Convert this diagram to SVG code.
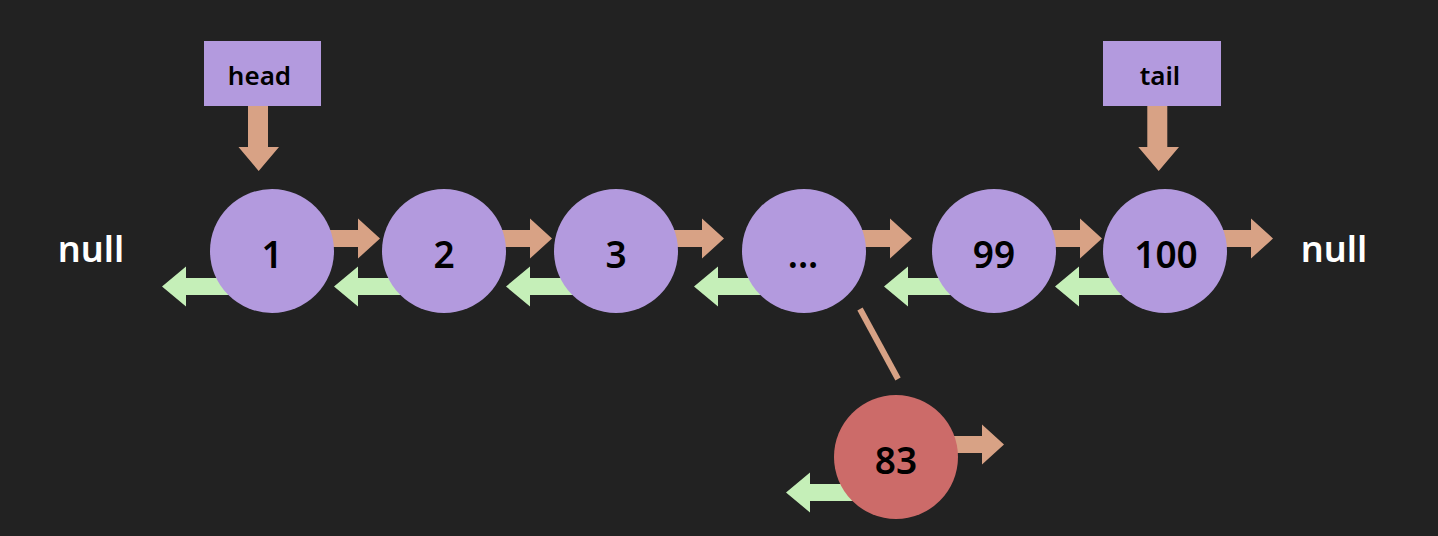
<svg xmlns="http://www.w3.org/2000/svg" xmlns:xlink="http://www.w3.org/1999/xlink" width="1438" height="536" viewBox="0 0 1438 536">
<style>
.node{fill:#b39ade}
.red{fill:#cc6b69}
.lbl{fill:#b39ade}
.nxt{fill:#d8a285}
.prv{fill:#c5efb8}
.t{font-family:"Noto Sans","Open Sans",sans-serif;font-weight:600;fill:#000;text-anchor:middle}
.nt{font-size:37px}
.pt{font-size:26px}
.null{font-family:"Noto Sans","Open Sans",sans-serif;font-weight:600;font-size:36px;fill:#fff;text-anchor:middle}
</style>
<defs>
<path id="nextArrow" d="M0,-21 H86 V-32.5 L108,-12.5 L86,7.5 V-4 H0 Z"/>
<path id="prevArrow" d="M0,27 H-86 V15.5 L-110,35.5 L-86,55.5 V44 H0 Z"/>
</defs>
<rect width="1438" height="536" fill="#222222"/>
<g id="connectors">
<use xlink:href="#nextArrow" class="nxt" x="272" y="251"/>
<use xlink:href="#prevArrow" class="prv" x="272" y="251"/>
<use xlink:href="#nextArrow" class="nxt" x="444" y="251"/>
<use xlink:href="#prevArrow" class="prv" x="444" y="251"/>
<use xlink:href="#nextArrow" class="nxt" x="616" y="251"/>
<use xlink:href="#prevArrow" class="prv" x="616" y="251"/>
<use xlink:href="#nextArrow" class="nxt" x="804" y="251"/>
<use xlink:href="#prevArrow" class="prv" x="804" y="251"/>
<use xlink:href="#nextArrow" class="nxt" x="994" y="251"/>
<use xlink:href="#prevArrow" class="prv" x="994" y="251"/>
<use xlink:href="#nextArrow" class="nxt" x="1165" y="251"/>
<use xlink:href="#prevArrow" class="prv" x="1165" y="251"/>
<use xlink:href="#nextArrow" class="nxt" x="896" y="457"/>
<use xlink:href="#prevArrow" class="prv" x="896" y="457"/>
<path class="nxt" d="M248,106 V147 H238.5 L258.7,171 L279,147 H268 V106 Z"/>
<path class="nxt" d="M1147.3,106 V147 H1138.3 L1158.7,171 L1179,147 H1167.3 V106 Z"/>
<line x1="860" y1="309" x2="898" y2="379" stroke="#d8a285" stroke-width="6"/>
</g>
<g id="head"><rect class="lbl" x="204" y="41" width="117" height="65"/><text class="t pt" x="259.5" y="85">head</text></g>
<g id="tail"><rect class="lbl" x="1103" y="41" width="118" height="65"/><text class="t pt" x="1160" y="85">tail</text></g>
<g id="n1"><circle class="node" cx="272" cy="251" r="62"/><text class="t nt" x="272" y="268">1</text></g>
<g id="n2"><circle class="node" cx="444" cy="251" r="62"/><text class="t nt" x="444" y="268">2</text></g>
<g id="n3"><circle class="node" cx="616" cy="251" r="62"/><text class="t nt" x="616" y="268">3</text></g>
<g id="ndots"><circle class="node" cx="804" cy="251" r="62"/><text class="t nt" x="803" y="268">...</text></g>
<g id="n99"><circle class="node" cx="994" cy="251" r="62"/><text class="t nt" x="994" y="268">99</text></g>
<g id="n100"><circle class="node" cx="1165" cy="251" r="62"/><text class="t nt" x="1166" y="268">100</text></g>
<g id="n83"><circle class="red" cx="896" cy="457" r="62"/><text class="t nt" x="896" y="474">83</text></g>
<g id="nullL"><text class="null" x="91" y="262">null</text></g>
<g id="nullR"><text class="null" x="1334" y="262">null</text></g>
</svg>
